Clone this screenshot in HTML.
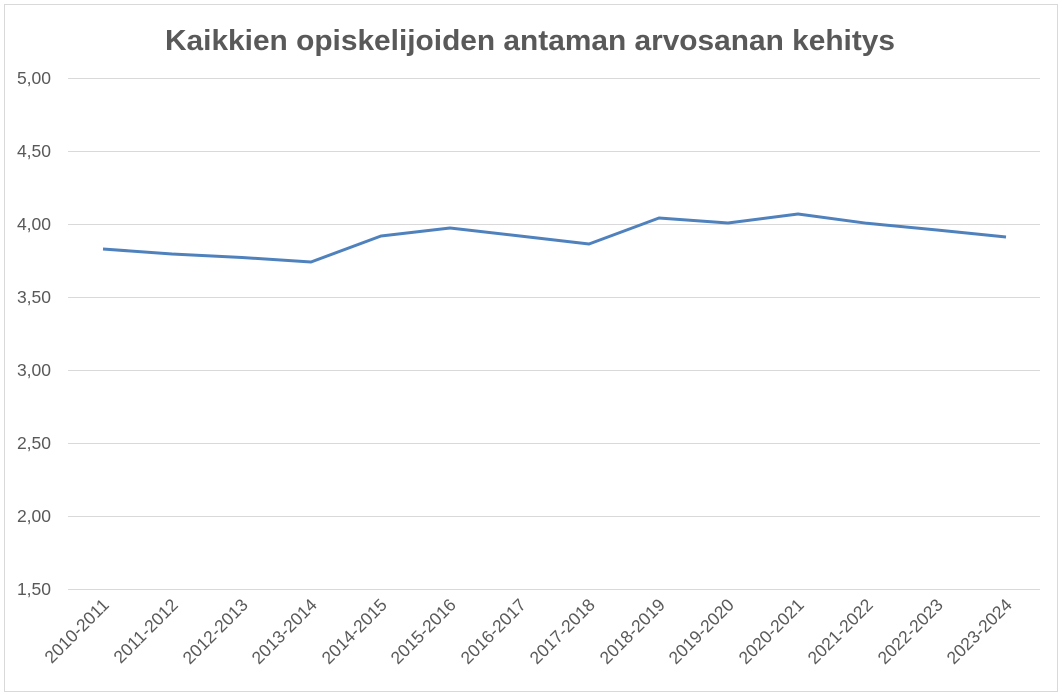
<!DOCTYPE html>
<html><head><meta charset="utf-8"><style>
html,body{margin:0;padding:0;background:#fff;}
svg{display:block;font-family:"Liberation Sans",sans-serif;}
</style></head><body>
<svg width="1062" height="696" viewBox="0 0 1062 696">
<rect x="4.5" y="4.5" width="1053" height="687" fill="#fff" stroke="#d9d9d9"/>
<text x="530" y="50" text-anchor="middle" font-size="29" font-weight="bold" fill="#595959" textLength="730" lengthAdjust="spacingAndGlyphs">Kaikkien opiskelijoiden antaman arvosanan kehitys</text>
<g stroke="#d9d9d9" stroke-width="1">
<line x1="68" x2="1040" y1="78.5" y2="78.5"/>
<line x1="68" x2="1040" y1="151.5" y2="151.5"/>
<line x1="68" x2="1040" y1="224.5" y2="224.5"/>
<line x1="68" x2="1040" y1="297.5" y2="297.5"/>
<line x1="68" x2="1040" y1="370.5" y2="370.5"/>
<line x1="68" x2="1040" y1="443.5" y2="443.5"/>
<line x1="68" x2="1040" y1="516.5" y2="516.5"/>
<line x1="68" x2="1040" y1="589.5" y2="589.5"/>
</g>
<g font-size="17.5" fill="#595959" text-anchor="end">
<text x="51" y="84">5,00</text>
<text x="51" y="157">4,50</text>
<text x="51" y="230">4,00</text>
<text x="51" y="303">3,50</text>
<text x="51" y="376">3,00</text>
<text x="51" y="449">2,50</text>
<text x="51" y="522">2,00</text>
<text x="51" y="595">1,50</text>
</g>
<polyline fill="none" stroke="#4f81bd" stroke-width="3" stroke-linejoin="round" points="103,249 172,254 242,257.5 311,262 381,236 450,228 520,236 589,244 659,218 728,223 798,214 867,223.3 937,230 1006,237"/>
<g font-size="17.5" fill="#595959" text-anchor="end">
<text transform="translate(110,606) rotate(-45)">2010-2011</text>
<text transform="translate(179,606) rotate(-45)">2011-2012</text>
<text transform="translate(249,606) rotate(-45)">2012-2013</text>
<text transform="translate(318,606) rotate(-45)">2013-2014</text>
<text transform="translate(388,606) rotate(-45)">2014-2015</text>
<text transform="translate(457,606) rotate(-45)">2015-2016</text>
<text transform="translate(527,606) rotate(-45)">2016-2017</text>
<text transform="translate(596,606) rotate(-45)">2017-2018</text>
<text transform="translate(666,606) rotate(-45)">2018-2019</text>
<text transform="translate(735,606) rotate(-45)">2019-2020</text>
<text transform="translate(805,606) rotate(-45)">2020-2021</text>
<text transform="translate(874,606) rotate(-45)">2021-2022</text>
<text transform="translate(944,606) rotate(-45)">2022-2023</text>
<text transform="translate(1013,606) rotate(-45)">2023-2024</text>
</g>
</svg>
</body></html>
